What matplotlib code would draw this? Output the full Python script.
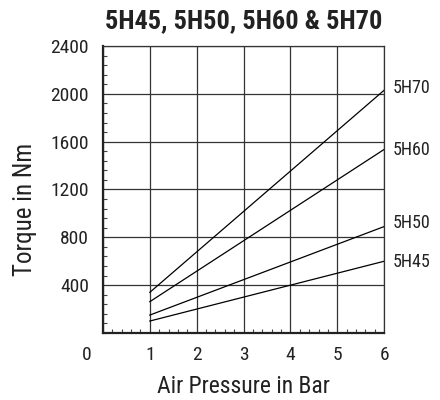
import matplotlib
matplotlib.use("Agg")
import matplotlib.pyplot as plt
from matplotlib.ticker import MultipleLocator

plt.rcParams['font.family'] = ['Roboto Condensed', 'Roboto', 'DejaVu Sans']

pressure = [1, 6]
models = ["5H70", "5H60", "5H50", "5H45"]
torque = {
    "5H70": [340, 2030],
    "5H60": [262, 1535],
    "5H50": [150, 890],
    "5H45": [100, 600],
}
label_y = [2049, 1530, 920, 594]

fig = plt.figure(figsize=(4.4, 4.0), dpi=100)
ax = fig.add_axes([0.234, 0.1675, 0.639, 0.7175])

for m in models:
    ax.plot(pressure, torque[m], color="black", lw=0.9)

for m, y in zip(models, label_y):
    ax.text(6.19, y, m, fontsize=13, va="center", ha="left", color="#222222",
            clip_on=False)

ax.set_xlim(0, 6)
ax.set_ylim(0, 2400)
ax.set_xticks(range(0, 7))
ax.set_yticks([400, 800, 1200, 1600, 2000, 2400])
ax.xaxis.set_minor_locator(MultipleLocator(0.2))
ax.yaxis.set_minor_locator(MultipleLocator(80))
ax.tick_params(which="major", length=0, labelsize=14, labelcolor="#222222")
ax.tick_params(axis="y", which="major", pad=10)
ax.tick_params(axis="x", which="major", pad=9)
ax.tick_params(which="minor", direction="in", length=3, width=0.8, color="#444444")
ax.grid(which="major", color="#333333", lw=0.9)

for s in ["top", "right"]:
    ax.spines[s].set_linewidth(0.9)
    ax.spines[s].set_color("#333333")
for s in ["left", "bottom"]:
    ax.spines[s].set_linewidth(1.6)
    ax.spines[s].set_color("#222222")

# the origin label sits below the y tick labels, level with the x tick labels
ax.set_xticklabels(["", "1", "2", "3", "4", "5", "6"])
ax.annotate("0", xy=(0, 0), xycoords="axes fraction", xytext=(-12, -9),
            textcoords="offset points", fontsize=14, ha="center", va="top",
            color="#222222")

ax.set_xlabel("Air Pressure in Bar", fontsize=17, labelpad=8, color="#222222")
ax.set_ylabel("Torque in Nm", fontsize=18, color="#222222")
ax.yaxis.set_label_coords(-0.235, 0.43)
ax.set_title("5H45, 5H50, 5H60 & 5H70", fontsize=19, fontweight="heavy",
             pad=13, color="#222222")

fig.savefig("out.png", dpi=100)
